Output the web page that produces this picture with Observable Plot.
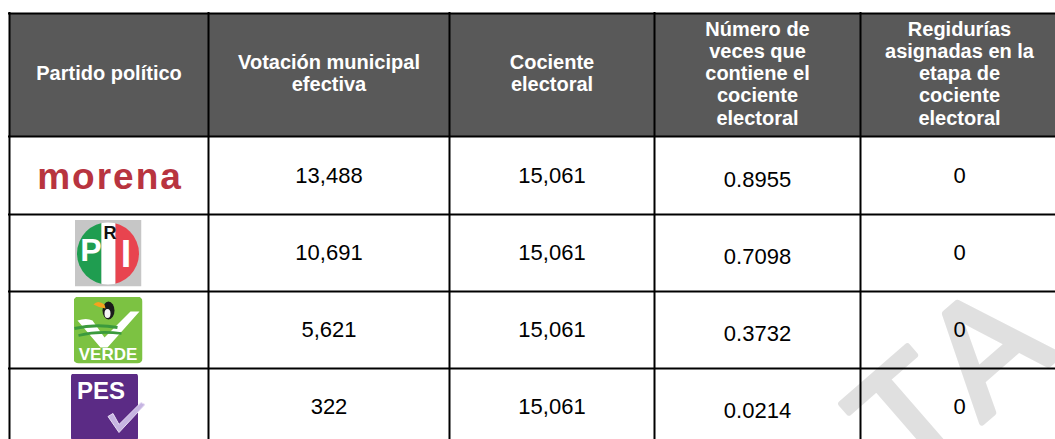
<!DOCTYPE html>
<html><head><meta charset="utf-8">
<script src="https://cdn.jsdelivr.net/npm/d3@7"></script>
<script src="https://cdn.jsdelivr.net/npm/@observablehq/plot@0.6"></script>
<style>html,body{margin:0;padding:0;background:#fff;}</style>
</head><body><div id="chart"></div>
<script>
// ---- data ----
const headers = ["Partido político", "Votación municipal\nefectiva", "Cociente\nelectoral",
  "Número de\nveces que\ncontiene el\ncociente\nelectoral",
  "Regidurías\nasignadas en la\netapa de\ncociente\nelectoral"];
const parties = ["morena", "PRI", "VERDE", "PES"];
const votacion = [13488, 10691, 5621, 322];
const cociente = [15061, 15061, 15061, 15061];
const veces = [0.8955, 0.7098, 0.3732, 0.0214];
const regidurias = [0, 0, 0, 0];
const watermark = ["TA"];

// ---- table cells built from the arrays ----
const fmt = d3.format(",");
const cells = parties.flatMap((p, i) => [
  {col: 1, row: i + 1, text: fmt(votacion[i])},
  {col: 2, row: i + 1, text: fmt(cociente[i])},
  {col: 3, row: i + 1, text: veces[i].toFixed(4)},
  {col: 4, row: i + 1, text: String(regidurias[i])}
]);

// ---- logo artwork (shapes only; letters are real text below) ----
const logoSvg = {
  PRI: `<svg xmlns="http://www.w3.org/2000/svg" width="67" height="67" viewBox="0 0 67 67">
<rect width="67" height="67" fill="#c6c6c6"/>
<clipPath id="c"><circle cx="33.5" cy="34" r="31"/></clipPath>
<g clip-path="url(#c)">
<rect x="0" y="0" width="27" height="67" fill="#1f9d50"/>
<rect x="27" y="0" width="14" height="67" fill="#ffffff"/>
<rect x="41" y="0" width="26" height="67" fill="#e8444f"/>
</g></svg>`,
  VERDE: `<svg xmlns="http://www.w3.org/2000/svg" width="69" height="67" viewBox="0 0 69 67">
<rect width="69" height="67" rx="5" fill="#7cc242"/>
<path d="M4 24 Q13 21 19 24 L31 41 L57 15 L66 15 L34 51 L27 51 Z" fill="#ffffff"/>
<path d="M1 32 Q22 27 44 31" stroke="#3b9a3d" stroke-width="3" fill="none"/>
<path d="M5 39 Q25 34 48 37" stroke="#3b9a3d" stroke-width="2.5" fill="none"/>
<ellipse cx="35" cy="14" rx="6" ry="9" fill="#1b1b1b"/>
<ellipse cx="34" cy="17" rx="3" ry="4.5" fill="#f4f4f4"/>
<path d="M31 8 Q24 3 20 8 Q25 11 32 12 Z" fill="#f5a21e"/>
</svg>`,
  PES: `<svg xmlns="http://www.w3.org/2000/svg" width="74" height="67" viewBox="0 0 74 67">
<rect width="67" height="67" rx="3" fill="#5b2b85"/>
<path d="M37 43 L42 40 L48 51 L70 29 L74 31 L48 59 Z" fill="#c6b5e2" stroke="#e6dcf3" stroke-width="1"/>
</svg>`
};
const logoW = {PRI: 67, VERDE: 69, PES: 74};
const uri = s => "data:image/svg+xml;charset=utf-8," + encodeURIComponent(s);
const rowOf = p => parties.indexOf(p) + 1.5;

const font = "Liberation Sans, Arial, Helvetica, sans-serif";
const nCols = headers.length, nRows = parties.length + 1;

const chart = Plot.plot({
  width: 1055, height: 439,
  marginTop: 0, marginRight: 0, marginBottom: 0, marginLeft: 0,
  style: {fontFamily: font, background: "#fff"},
  x: {type: "linear", domain: d3.range(nCols + 1), range: [9, 208, 449, 654, 860, 1058], axis: null},
  y: {type: "linear", domain: d3.range(nRows + 1), range: [13, 136, 214, 291, 368, 445], axis: null},
  marks: [
    // header background
    Plot.rect(headers, {x1: (d, i) => i, x2: (d, i) => i + 1, y1: 0, y2: 1, fill: "#595959"}),
    // watermark
    Plot.text(watermark, {frameAnchor: "bottom-right", dx: -147, dy: 47, text: d => d,
      textAnchor: "start", lineAnchor: "bottom", rotate: -41, fontSize: 155,
      fill: "#e0e0e0", stroke: "#e0e0e0", strokeWidth: 6, strokeLinejoin: "round"}),
    // grid
    Plot.ruleX(d3.range(nCols + 1), {x: d => d, y1: 0, y2: nRows, stroke: "#000", strokeWidth: 2, strokeLinecap: "square"}),
    Plot.ruleY(d3.range(nRows + 1), {y: d => d, x1: 0, x2: nCols, stroke: "#000", strokeWidth: 2, strokeLinecap: "square"}),
    // header text
    Plot.text(headers, {x: (d, i) => i + 0.5, y: 0.5, text: d => d, dy: -2,
      fill: "#fff", fontWeight: "bold", fontSize: 20, lineHeight: 1.115, lineAnchor: "middle"}),
    // body values
    Plot.text(cells, {x: d => d.col + 0.5, y: d => d.row + 0.5, text: "text",
      fill: "#000", fontSize: 22, lineAnchor: "middle"}),
    // logos
    Plot.text(["morena"], {x: 0.5, y: rowOf("morena"), text: d => d, dx: 1, dy: 2,
      fill: "#b8343f", fontWeight: "bold", fontSize: 37, lineAnchor: "middle"}),
    Plot.image(["PRI", "VERDE", "PES"], {x: 0.5, y: rowOf, src: d => uri(logoSvg[d]),
      width: d => logoW[d], height: 67, dx: -1}),
    Plot.text(["P"], {x: 0.5, y: rowOf("PRI"), text: d => d, dx: -18, dy: -2, fill: "#fff", fontWeight: "bold", fontSize: 32, lineAnchor: "middle"}),
    Plot.text(["R"], {x: 0.5, y: rowOf("PRI"), text: d => d, dx: 1, dy: -20, fill: "#111", fontWeight: "bold", fontSize: 18, lineAnchor: "middle"}),
    Plot.text(["I"], {x: 0.5, y: rowOf("PRI"), text: d => d, dx: 17, dy: 2, fill: "#fff", fontWeight: "bold", fontSize: 38, lineAnchor: "middle"}),
    Plot.text(["VERDE"], {x: 0.5, y: rowOf("VERDE"), text: d => d, dx: -1, dy: 25, fill: "#fff", fontWeight: "bold", fontSize: 17, lineAnchor: "middle"}),
    Plot.text(["PES"], {x: 0.5, y: rowOf("PES"), text: d => d, dx: -8, dy: -16, fill: "#fff", fontWeight: "bold", fontSize: 24, lineAnchor: "middle"})
  ]
});
d3.select(chart).selectAll("text").filter(function () { return this.textContent === "morena"; })
  .attr("letter-spacing", "2px");
d3.select(chart).selectAll("text").filter(function () { return this.textContent === "TA"; })
  .attr("letter-spacing", "14px");
// values in the "Número de veces" column sit a little lower
d3.select(chart).selectAll("text").filter(function () { return /^0\.\d{4}$/.test(this.textContent); })
  .attr("transform", function () { return (this.getAttribute("transform") || "") + " translate(0,4)"; });
document.getElementById("chart").appendChild(chart);
</script>
</body></html>
